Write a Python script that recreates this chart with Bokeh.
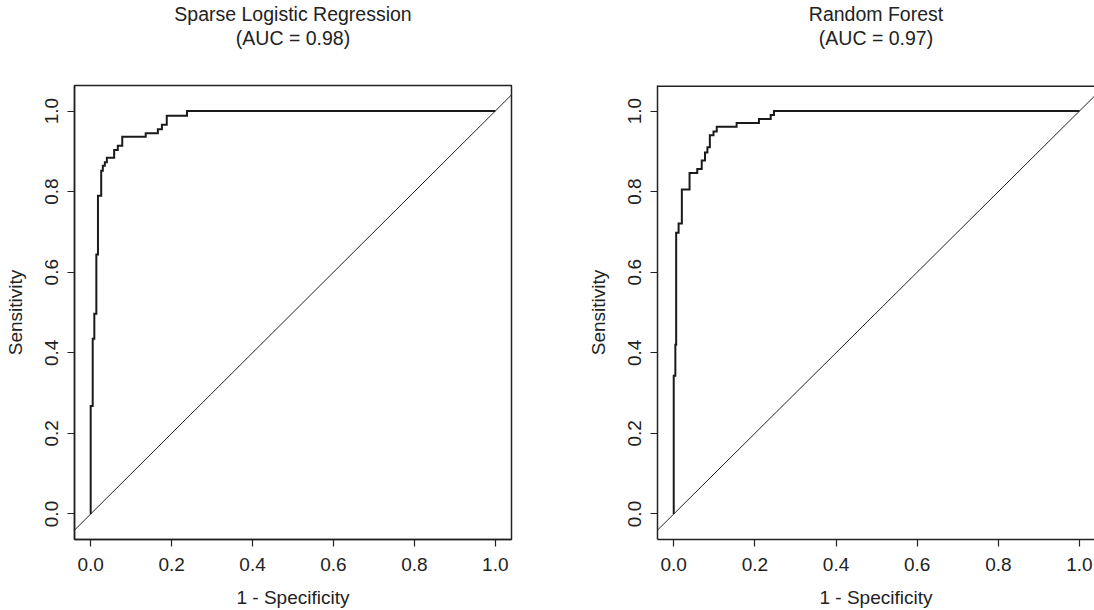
from bokeh.plotting import figure
from bokeh.layouts import row
from bokeh.models import FixedTicker, PrintfTickFormatter, Range1d, Slope, Span, Title
from bokeh.embed import file_html
from bokeh.resources import INLINE

# ---- data ----
slr_fpr = [0.0, 0.0, 0.005, 0.009, 0.014, 0.018, 0.026, 0.030, 0.035, 0.040,
           0.058, 0.067, 0.078, 0.136, 0.166, 0.176, 0.188, 0.238, 1.0]
slr_tpr = [0.0, 0.268, 0.435, 0.497, 0.644, 0.790, 0.852, 0.864, 0.873, 0.884,
           0.903, 0.914, 0.936, 0.945, 0.955, 0.966, 0.988, 1.0, 1.0]

rf_fpr = [0.0, 0.0, 0.004, 0.006, 0.012, 0.020, 0.039, 0.058, 0.069, 0.077,
          0.083, 0.089, 0.098, 0.106, 0.155, 0.210, 0.239, 0.247, 1.0]
rf_tpr = [0.0, 0.343, 0.420, 0.698, 0.721, 0.805, 0.846, 0.856, 0.877, 0.897,
          0.910, 0.940, 0.949, 0.961, 0.970, 0.980, 0.990, 1.0, 1.0]

model_names = ["Sparse Logistic Regression", "Random Forest"]
auc_values = [0.98, 0.97]
tick_values = [0.0, 0.2, 0.4, 0.6, 0.8, 1.0]
x_label = "1 - Specificity"
y_label = "Sensitivity"

FONT = "Liberation Sans"
INK = "#222222"
FS = "19px"
TFS = "19.5px"


def panel(fpr, tpr, name, auc, width, b_left, b_right, x_end, cropped=False):
    y_rng = Range1d(-0.0633, 1.0633)
    p = figure(width=width, height=610,
               x_range=Range1d(-0.04, x_end), y_range=y_rng,
               output_backend="svg", toolbar_location=None, title=None,
               min_border_left=b_left, min_border_right=b_right,
               min_border_top=84, min_border_bottom=69)
    p.grid.visible = False
    p.background_fill_color = "white"
    p.border_fill_color = "white"
    if cropped:
        # the reference is cut at the right edge: box drawn without its right side
        p.outline_line_color = None
        p.add_layout(Span(location=y_rng.end, dimension="width",
                          line_color=INK, line_width=3))
    else:
        p.outline_line_color = INK
        p.outline_line_width = 1.5
        p.outline_line_alpha = 1.0

    p.add_layout(Slope(gradient=1, y_intercept=0, line_color=INK, line_width=1))
    p.step(fpr, tpr, mode="after", line_color="#1a1a1a", line_width=2,
           line_join="miter")

    for ax in (p.xaxis[0], p.yaxis[0]):
        ax.ticker = FixedTicker(ticks=tick_values)
        ax.formatter = PrintfTickFormatter(format="%.1f")
        ax.minor_tick_line_color = None
        ax.major_tick_in = 0
        ax.major_tick_out = 7
        ax.major_tick_line_color = INK
        ax.major_tick_line_width = 1.2
        ax.axis_line_color = INK
        ax.axis_line_width = 1.5
        ax.major_label_text_font = FONT
        ax.major_label_text_font_size = FS
        ax.major_label_text_color = INK
        ax.axis_label_text_font = FONT
        ax.axis_label_text_font_size = FS
        ax.axis_label_text_font_style = "normal"
        ax.axis_label_text_color = INK

    p.xaxis[0].axis_label = x_label
    p.xaxis[0].major_label_standoff = 11
    p.xaxis[0].axis_label_standoff = 13
    p.yaxis[0].axis_label = y_label
    p.yaxis[0].major_label_standoff = 9
    p.yaxis[0].axis_label_standoff = 17
    p.yaxis[0].major_label_orientation = "vertical"

    # spacer between frame and the two title lines
    p.add_layout(Title(text=" ", text_font=FONT, text_font_size="18px",
                       standoff=15), "above")
    p.add_layout(Title(text=f"(AUC = {auc:.2f})", align="center",
                       text_font=FONT, text_font_size=TFS, text_font_style="normal",
                       text_color=INK, standoff=0), "above")
    p.add_layout(Title(text=name, align="center",
                       text_font=FONT, text_font_size=TFS, text_font_style="normal",
                       text_color=INK, standoff=0), "above")
    return p


p1 = panel(slr_fpr, slr_tpr, model_names[0], auc_values[0], 584, 74, 73, 1.04)
p2 = panel(rf_fpr, rf_tpr, model_names[1], auc_values[1], 510, 73, 0, 1.037,
           cropped=True)

layout = row(p1, p2, spacing=0)
open("out.html", "w").write(file_html(layout, INLINE))
